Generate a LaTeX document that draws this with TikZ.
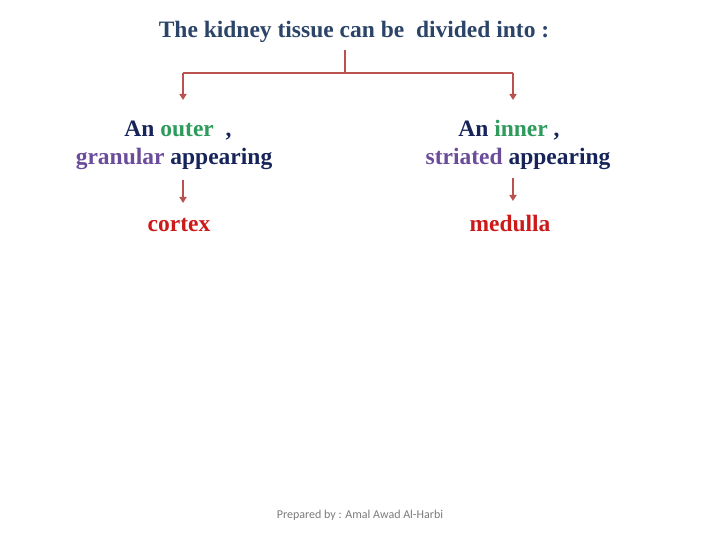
\documentclass[tikz,border=0pt]{standalone}
\usepackage{fontspec}
\setmainfont{Liberation Serif}
\newfontfamily\footfont{Carlito}
\usetikzlibrary{arrows.meta}
\definecolor{titleblue}{HTML}{2B4468}
\definecolor{navy}{HTML}{17245A}
\definecolor{leafgreen}{HTML}{2E9A5C}
\definecolor{purp}{HTML}{6B4C9A}
\definecolor{redtxt}{HTML}{CC1A1A}
\definecolor{arrowred}{HTML}{B9514F}
\definecolor{footgray}{HTML}{7A7A7A}
\tikzset{
  txt/.style={inner sep=0pt, anchor=base, font=\fontsize{23.5}{27}\selectfont\bfseries, text=navy},
  conn/.style={draw=arrowred, line width=2.4pt},
  arr/.style={conn, -{Triangle[length=6pt,width=7pt]}},
}
\begin{document}
\begin{tikzpicture}[x=1pt,y=-1pt]
\useasboundingbox (0,0) rectangle (720,540);
\node[txt, text=titleblue, font=\fontsize{23.5}{27}\selectfont\bfseries] (title) at (354,38) {The kidney tissue can be \ divided into :};
\coordinate (top) at (345,50);
\coordinate (mid) at (345,73);
\coordinate (lc) at (183,73);
\coordinate (rc) at (513,73);
\node[txt] (l1) at (178,137) {An \textcolor{leafgreen}{outer} \ ,};
\node[txt] (l2) at (174,165) {\textcolor{purp}{granular} appearing};
\node[txt] (r1) at (509,137) {An \textcolor{leafgreen}{inner} ,};
\node[txt] (r2) at (518,165) {\textcolor{purp}{striated} appearing};
\node[txt, text=redtxt] (cortex) at (179,231) {cortex};
\node[txt, text=redtxt] (medulla) at (510,231) {medulla};
\coordinate (lt) at (183,100);
\coordinate (rt) at (513,100);
\draw[conn] (top) -- (mid);
\draw[arr] (lc) -- (lt);
\draw[arr] (rc) -- (rt);
\draw[conn] (lc) -- (rc);
\coordinate (la) at (183,180);
\coordinate (lb) at (183,203);
\coordinate (ra) at (513,178);
\coordinate (rb) at (513,201);
\draw[arr, line width=1.8pt] (la) -- (lb);
\draw[arr, line width=1.8pt] (ra) -- (rb);
\node[inner sep=0pt, text=footgray, font=\footfont\fontsize{12}{14}\selectfont] (foot) at (360,515) {Prepared by : Amal Awad Al-Harbi};
\end{tikzpicture}
\end{document}
